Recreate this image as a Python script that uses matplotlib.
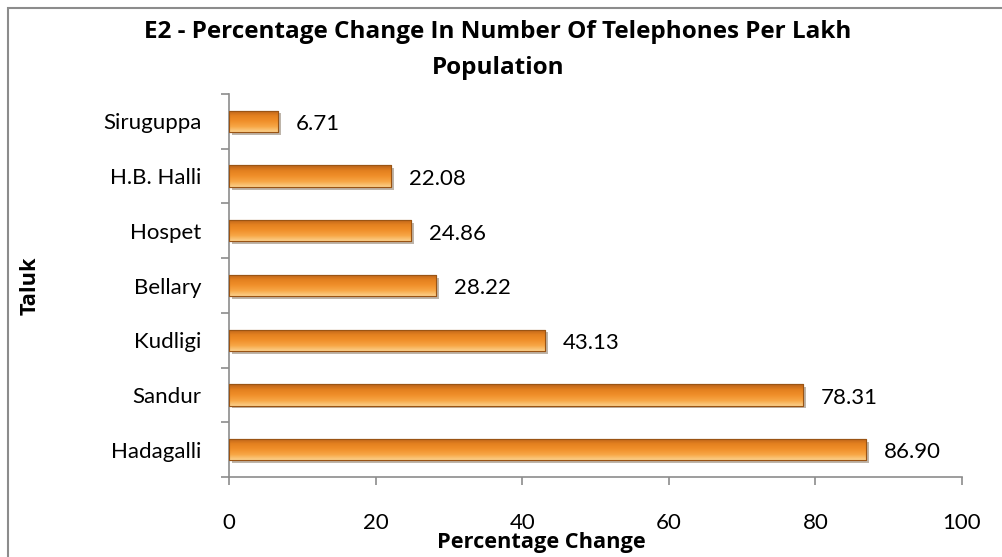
import matplotlib.pyplot as plt
import matplotlib.patheffects as pe
from matplotlib.colors import LinearSegmentedColormap
from matplotlib.patches import Rectangle
import numpy as np

plt.rcParams['font.family'] = ['Lato', 'DejaVu Sans']

taluks = ['Hadagalli', 'Sandur', 'Kudligi', 'Bellary', 'Hospet', 'H.B. Halli', 'Siruguppa']
pct_change = [86.90, 78.31, 43.13, 28.22, 24.86, 22.08, 6.71]

fig = plt.figure(figsize=(10.03, 5.57), dpi=100)
ax = fig.add_axes([229/1003, 1-477/557, 733/1003, 383/557])

# outer chart border
fig.patches.append(Rectangle((8/1003, -0.1), 1.2, 1-8/557+0.1, transform=fig.transFigure,
                             fill=False, edgecolor='#8c8c8c', linewidth=1.5))

y = np.arange(len(taluks))
bars = ax.barh(y, pct_change, height=0.39, color='#ee8f2c', edgecolor='#9a5414', linewidth=0.8,
               path_effects=[pe.SimplePatchShadow(offset=(2, -2), alpha=0.35), pe.Normal()], zorder=2)

# gradient fill inside each bar
cmap = LinearSegmentedColormap.from_list('orng', ['#fcd08a', '#f7a645', '#f08f2a', '#e3801f', '#b8621a'])
grad = np.linspace(0, 1, 100).reshape(-1, 1)
for b in bars:
    x0, y0, w, h = b.get_x(), b.get_y(), b.get_width(), b.get_height()
    im = ax.imshow(grad, cmap=cmap, aspect='auto', extent=[x0, x0 + w, y0 + h, y0],
                   origin='upper', zorder=3)
    im.set_clip_path(b)
    ax.add_patch(Rectangle((x0, y0), w, h, fill=False, edgecolor='#9a5414', linewidth=0.8, zorder=4))

for yi, v in zip(y, pct_change):
    ax.annotate(f'{v:.2f}', (v, yi), xytext=(13, -2), textcoords='offset points',
                va='center', ha='left', fontsize=16)

ax.set_xlim(0, 100)
ax.set_ylim(-0.5, len(taluks) - 0.5)
ax.set_xticks([0, 20, 40, 60, 80, 100])
ax.set_yticks(y)
ax.set_yticklabels(taluks)
ax.set_yticks(np.arange(-0.5, len(taluks), 1), minor=True)
ax.tick_params(axis='y', which='major', length=0, pad=20, labelsize=16)
ax.tick_params(axis='y', which='minor', length=6, color='#8c8c8c', width=1.2)
ax.tick_params(axis='x', length=6, color='#8c8c8c', width=1.2, pad=20, labelsize=16)

for s in ['top', 'right']:
    ax.spines[s].set_visible(False)
for s in ['left', 'bottom']:
    ax.spines[s].set_color('#8c8c8c')
    ax.spines[s].set_linewidth(1.2)

bold = dict(family=['Open Sans', 'DejaVu Sans'], fontweight='bold')
ax.set_xlabel('Percentage Change', fontsize=15.7, **bold)
ax.xaxis.set_label_coords(0.426, -0.17)
ax.xaxis.label.set_va('center')
ax.set_ylabel('Taluk', fontsize=15.7, **bold)
ax.yaxis.set_label_coords((30 - 229) / 733, 0.5)
ax.yaxis.label.set_va('center')

fig.text(498/1003, 1-32/557, 'E2 - Percentage Change In Number Of Telephones Per Lakh',
         ha='center', va='center', fontsize=17.5, **bold)
fig.text(498/1003, 1-68/557, 'Population', ha='center', va='center', fontsize=17.5, **bold)

fig.savefig('out.png', dpi=100)
